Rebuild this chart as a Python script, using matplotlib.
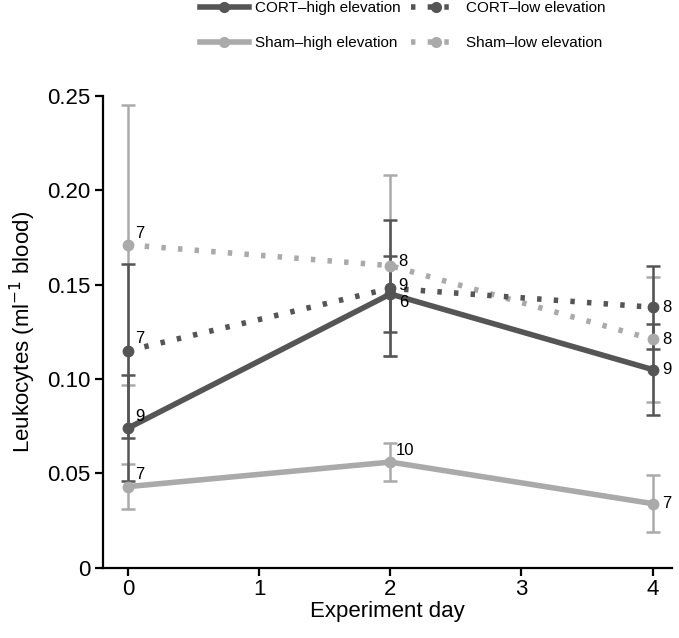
import matplotlib
matplotlib.use("Agg")
import matplotlib.pyplot as plt
from matplotlib.lines import Line2D

plt.rcParams['font.family'] = ['Liberation Sans', 'DejaVu Sans']

days = [0, 2, 4]

cort_high = [0.074, 0.145, 0.105]
cort_high_err = [0.028, 0.020, 0.024]
cort_high_n = ["9", "9", "9"]

cort_low = [0.115, 0.148, 0.138]
cort_low_err = [0.046, 0.036, 0.022]
cort_low_n = ["7", "6", "8"]

sham_high = [0.043, 0.056, 0.034]
sham_high_err = [0.012, 0.010, 0.015]
sham_high_n = ["7", "10", "7"]

sham_low = [0.171, 0.160, 0.121]
sham_low_err = [0.074, 0.048, 0.033]
sham_low_n = ["7", "8", "8"]

dark = "#555555"
light = "#aaaaaa"

fig = plt.figure(figsize=(6.79, 6.38), dpi=100)
ax = fig.add_axes([0.152, 0.11, 0.838, 0.74])

series = [
    ("CORT\u2013high elevation", cort_high, cort_high_err, cort_high_n, dark, "-"),
    ("CORT\u2013low elevation", cort_low, cort_low_err, cort_low_n, dark, (0, (0.8, 2.2))),
    ("Sham\u2013high elevation", sham_high, sham_high_err, sham_high_n, light, "-"),
    ("Sham\u2013low elevation", sham_low, sham_low_err, sham_low_n, light, (0, (0.8, 2.2))),
]

for name, vals, errs, ns, col, ls in [series[3], series[2], series[1], series[0]]:
    ax.errorbar(days, vals, yerr=errs, fmt='none', ecolor=col, elinewidth=1.8,
                capsize=5, capthick=1.8, zorder=2)

for name, vals, errs, ns, col, ls in [series[3], series[2], series[1], series[0]]:
    ax.plot(days, vals, color=col, lw=4, ls=ls, solid_capstyle='butt',
            dash_capstyle='butt', zorder=3)
    ax.plot(days, vals, 'o', color=col, ms=7.5, zorder=4)

offsets = {
    ("CORT\u2013high elevation", 0): (5, 3, 'bottom'),
    ("CORT\u2013high elevation", 1): (6, 1, 'bottom'),
    ("CORT\u2013high elevation", 2): (7, 0, 'center'),
    ("CORT\u2013low elevation", 0): (5, 3, 'bottom'),
    ("CORT\u2013low elevation", 1): (6, -5, 'top'),
    ("CORT\u2013low elevation", 2): (7, 0, 'center'),
    ("Sham\u2013high elevation", 0): (5, 3, 'bottom'),
    ("Sham\u2013high elevation", 1): (4, 3, 'bottom'),
    ("Sham\u2013high elevation", 2): (7, 0, 'center'),
    ("Sham\u2013low elevation", 0): (5, 3, 'bottom'),
    ("Sham\u2013low elevation", 1): (6, 3, 'center'),
    ("Sham\u2013low elevation", 2): (7, 0, 'center'),
}
for name, vals, errs, ns, col, ls in series:
    for i, (d, v, n) in enumerate(zip(days, vals, ns)):
        dx, dy, va = offsets[(name, i)]
        ax.annotate(n, (d, v), xytext=(dx, dy), textcoords='offset points',
                    ha='left', va=va, fontsize=12, color='black', zorder=5)

ax.set_xlim(-0.19, 4.15)
ax.set_ylim(0, 0.25)
ax.set_xticks([0, 1, 2, 3, 4])
ax.set_yticks([0, 0.05, 0.10, 0.15, 0.20, 0.25])
ax.set_yticklabels(["0", "0.05", "0.10", "0.15", "0.20", "0.25"])
for s in ['top', 'right']:
    ax.spines[s].set_visible(False)
for s in ['left', 'bottom']:
    ax.spines[s].set_linewidth(1.6)
ax.tick_params(direction='out', length=6, width=1.6, labelsize=16)
ax.tick_params(axis='x', pad=2)
ax.set_xlabel("Experiment day", fontsize=16, labelpad=1)
ax.set_ylabel("Leukocytes (ml$^{-1}$ blood)", fontsize=16, labelpad=6)

handles = []
for name, vals, errs, ns, col, ls in series:
    handles.append(Line2D([0], [0], color=col, lw=4, ls=ls, marker='o', ms=7,
                          dash_capstyle='butt'))
order = [0, 2, 1, 3]
fig.legend([handles[i] for i in order], [series[i][0] for i in order],
           loc='upper center', bbox_to_anchor=(0.593, 1.02), ncol=2, frameon=False,
           fontsize=11, handlelength=3.2, columnspacing=0.7, handletextpad=0.4,
           labelspacing=1.4)

fig.savefig("out.png", dpi=100)
